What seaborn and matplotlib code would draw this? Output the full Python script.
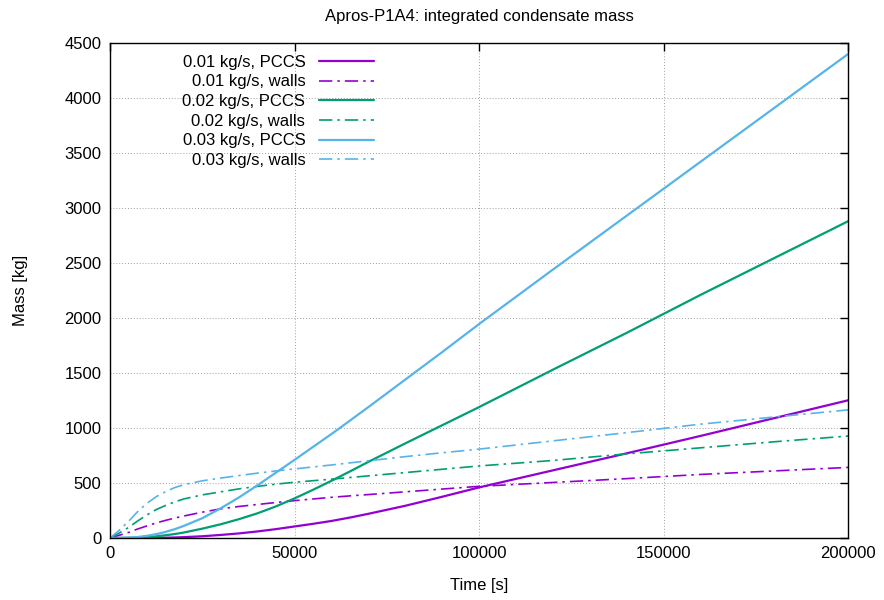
import matplotlib
matplotlib.use("Agg")
import matplotlib.pyplot as plt
import seaborn as sns
import pandas as pd

# Time axis samples [s]
time_s = [0, 2500, 5000, 7500, 10000, 12500, 15000, 17500, 20000, 25000, 30000,
          35000, 40000, 45000, 50000, 55000, 60000, 65000, 70000, 80000, 90000,
          100000, 120000, 140000, 160000, 180000, 200000]

# Integrated condensate mass [kg]
pccs_001 = [0, 0, 0, 0, 1, 2, 3, 5, 8, 16, 28,
            42, 60, 81, 105, 129, 155, 186, 220, 293, 375,
            460, 615, 770, 928, 1090, 1252]
walls_001 = [0, 25, 50, 82, 110, 137, 160, 181, 200, 235, 265,
             287, 305, 323, 340, 355, 370, 383, 395, 420, 445,
             470, 505, 540, 578, 610, 642]
pccs_002 = [0, 1, 2, 4, 8, 15, 25, 36, 50, 85, 125,
            172, 225, 288, 360, 438, 520, 605, 692, 860, 1025,
            1190, 1530, 1865, 2210, 2545, 2880]
walls_002 = [0, 45, 95, 155, 210, 258, 295, 328, 355, 392, 420,
             447, 470, 490, 507, 521, 535, 550, 565, 595, 625,
             655, 705, 765, 820, 875, 927]
pccs_003 = [0, 1, 3, 9, 20, 35, 55, 80, 110, 180, 270,
            370, 480, 595, 710, 828, 945, 1067, 1190, 1440, 1690,
            1945, 2440, 2930, 3420, 3910, 4400]
walls_003 = [0, 70, 150, 240, 315, 375, 420, 458, 485, 520, 545,
             568, 590, 610, 628, 646, 664, 683, 702, 740, 775,
             808, 883, 958, 1035, 1100, 1165]

series_labels = ["0.01 kg/s, PCCS", "0.01 kg/s, walls",
                 "0.02 kg/s, PCCS", "0.02 kg/s, walls",
                 "0.03 kg/s, PCCS", "0.03 kg/s, walls"]
series_values = [pccs_001, walls_001, pccs_002, walls_002, pccs_003, walls_003]
series_colors = ["#9400d3", "#9400d3", "#009e73", "#009e73", "#56b4e9", "#56b4e9"]
dash_dot = (0, (8, 3, 1.5, 3))
series_dashes = ["-", dash_dot, "-", dash_dot, "-", dash_dot]

sns.set_style("white")
plt.rcParams["font.family"] = ["Liberation Sans", "DejaVu Sans"]
plt.rcParams["font.size"] = 12
plt.rcParams["text.color"] = "black"
plt.rcParams["axes.labelcolor"] = "black"

fig = plt.figure(figsize=(8.84, 6.0), dpi=100)
ax = fig.add_axes([0.1244, 0.1033, 0.835, 0.825])

for label, values, color, dash in zip(series_labels, series_values,
                                      series_colors, series_dashes):
    df = pd.DataFrame({"Time [s]": time_s, "Mass [kg]": values})
    sns.lineplot(data=df, x="Time [s]", y="Mass [kg]", ax=ax, color=color,
                 linestyle=dash, linewidth=1.6 if dash == "-" else 1.2,
                 label=label)

ax.set_xlim(0, 200000)
ax.set_ylim(0, 4500)
ax.set_xticks([0, 50000, 100000, 150000, 200000])
ax.set_yticks(range(0, 4501, 500))
ax.grid(True, color="#a0a0a0", linestyle=(0, (1, 2)), linewidth=0.7)
ax.tick_params(direction="in", length=6, width=1, top=True, right=True,
               labelsize=12, colors="black", pad=6)
for spine in ax.spines.values():
    spine.set_visible(True)
    spine.set_color("black")
    spine.set_linewidth(1.0)

ax.set_xlabel("Time [s]", fontsize=12, labelpad=12, color="black")
ax.set_ylabel("Mass [kg]", fontsize=12, labelpad=26, color="black")
ax.set_title("Apros-P1A4: integrated condensate mass", fontsize=12, pad=16,
             color="black")

leg = ax.legend(loc="upper right", bbox_to_anchor=(0.373, 1.0), frameon=False,
                markerfirst=False, handlelength=3.3, handletextpad=0.8,
                labelspacing=0.28, borderaxespad=0.3, fontsize=12)

fig.savefig("out.png", dpi=100)
